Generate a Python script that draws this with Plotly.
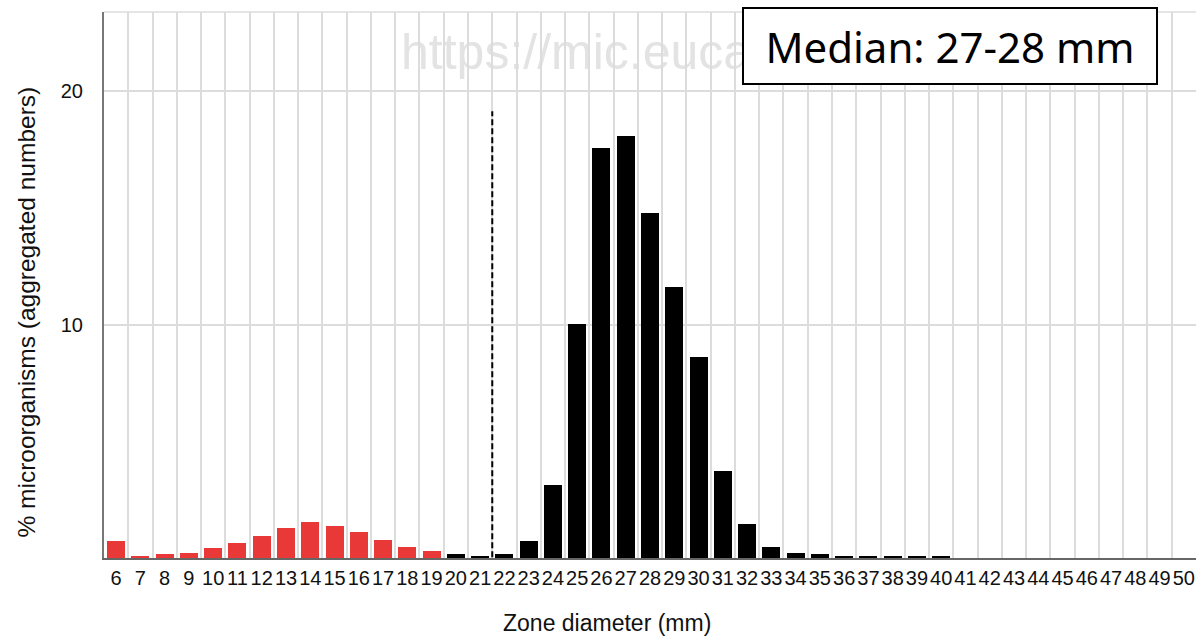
import plotly.graph_objects as go

# ---- data ----
zone_diameters = list(range(6, 51))
percentages = [
    0.75, 0.10, 0.16, 0.23, 0.42, 0.63, 0.96, 1.29, 1.56, 1.37,   # 6-15
    1.10, 0.76, 0.49, 0.29, 0.16, 0.09, 0.16, 0.73, 3.13, 10.03,  # 16-25
    17.58, 18.07, 14.78, 11.63, 8.60, 3.73, 1.45, 0.48, 0.23, 0.16,  # 26-35
    0.07, 0.07, 0.07, 0.07, 0.07, 0, 0, 0, 0, 0,                  # 36-45
    0, 0, 0, 0, 0,                                                # 46-50
]
resistant_max = 19          # bars up to this diameter drawn red
breakpoint_line = 21.5      # dashed breakpoint position
tick_labels = [str(v) for v in zone_diameters]
y_ticks = [10, 20]

RED = "#e93838"
BLACK = "#000000"
colors = [RED if d <= resistant_max else BLACK for d in zone_diameters]

W, H = 1196, 636
L, R, T, B = 104, 0, 12, 78
pw, ph = W - L - R, H - T - B

def px_x(p):
    return (p - L) / pw

def px_y(p):
    return (H - B - p) / ph

fig = go.Figure()
fig.add_trace(go.Bar(
    x=zone_diameters, y=percentages,
    marker=dict(color=colors, line=dict(width=0)),
    width=0.74, hoverinfo="x+y",
))

font_main = "Liberation Sans, Arial, sans-serif"

fig.update_layout(
    width=W, height=H,
    margin=dict(l=L, r=R, t=T, b=B, pad=0),
    paper_bgcolor="white", plot_bgcolor="white",
    showlegend=False,
    bargap=0,
    xaxis=dict(
        type="linear", range=[5.5, 50.5],
        tickmode="array", tickvals=zone_diameters, ticktext=tick_labels,
        showgrid=False, zeroline=False,
        minor=dict(tickmode="linear", tick0=5.5, dtick=1, showgrid=True,
                   gridcolor="#dcdcdc", gridwidth=1.5),
        showline=True, linecolor="#666666", linewidth=1.5,
        ticks="", ticklabelstandoff=1, tickangle=0,
        tickfont=dict(family=font_main, size=20, color="#111111"),
        fixedrange=True,
    ),
    yaxis=dict(
        range=[0, 23.4],
        tickmode="array", tickvals=y_ticks, ticktext=[str(v) for v in y_ticks],
        showgrid=True, gridcolor="#dcdcdc", gridwidth=1.5, zeroline=False,
        showline=True, linecolor="#777777", linewidth=2,
        ticks="", ticklabelstandoff=15,
        tickfont=dict(family=font_main, size=20, color="#111111"),
        fixedrange=True,
    ),
    shapes=[
        # top border line
        dict(type="line", xref="paper", yref="paper", x0=0, x1=1, y0=1, y1=1,
             line=dict(color="#dcdcdc", width=1.5), layer="below"),
        # watermark (behind grid)
        dict(type="rect", xref="paper", yref="paper",
             x0=px_x(398), x1=px_x(398) + 0.6, y0=px_y(72), y1=px_y(22),
             line=dict(width=0), fillcolor="rgba(0,0,0,0)", layer="below",
             label=dict(text="https://mic.eucast.org", textposition="middle left",
                        padding=0,
                        font=dict(family=font_main, size=50, color="#e3e3e3"))),
        # breakpoint dashed line
        dict(type="line", xref="x", yref="y", x0=breakpoint_line, x1=breakpoint_line,
             y0=-0.35, y1=19.15,
             line=dict(color="black", width=2, dash="6px,3px")),
    ],
    annotations=[
        dict(text="Median: 27-28 mm", xref="paper", yref="paper",
             x=px_x(950), y=px_y(45.7), xanchor="center", yanchor="middle",
             showarrow=False, bgcolor="white", bordercolor="black",
             borderwidth=2, borderpad=1, width=410, height=72,
             font=dict(family="Noto Sans, sans-serif", size=42, color="black")),
        dict(text="Zone diameter (mm)", xref="paper", yref="paper",
             x=px_x(607), y=px_y(623), xanchor="center", yanchor="middle",
             showarrow=False,
             font=dict(family=font_main, size=23, color="#111111")),
        dict(text="% microorganisms (aggregated numbers)", xref="paper", yref="paper",
             x=px_x(26), y=px_y(312.5), xanchor="center", yanchor="middle",
             textangle=-90, showarrow=False,
             font=dict(family=font_main, size=24.5, color="#111111")),
    ],
)

fig.write_html("out.html", config={"displayModeBar": False})
